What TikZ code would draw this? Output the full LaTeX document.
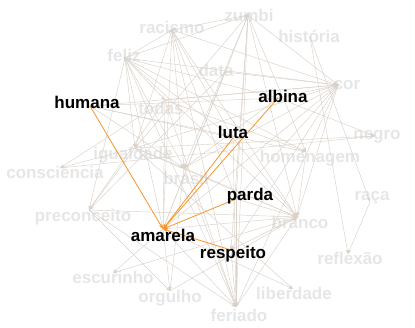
\documentclass[tikz,border=0pt]{standalone}
\usepackage{fontspec}
\setmainfont{Liberation Sans}
\usetikzlibrary{arrows.meta}
\definecolor{edgegrey}{RGB}{218,209,201}
\definecolor{labelgrey}{RGB}{230,230,230}
\definecolor{dotgrey}{RGB}{226,222,218}
\definecolor{hiorange}{RGB}{245,150,45}
\tikzset{
  faint/.style={font=\fontsize{17}{20}\selectfont\bfseries, text=labelgrey, inner sep=0pt},
  strong/.style={font=\fontsize{17}{20}\selectfont\bfseries, text=black, inner sep=0pt},
  link/.style={draw=edgegrey, line width=0.45pt, -{Stealth[length=4.5pt,width=3.2pt]}},
  hilink/.style={draw=hiorange, line width=0.8pt, -{Stealth[length=5pt,width=3.5pt]}},
  dot/.style={circle, fill=dotgrey, inner sep=0pt, minimum size=3.5pt}
}
\begin{document}
\begin{tikzpicture}[x=1pt,y=-1pt]
\useasboundingbox (0,0) rectangle (415,328);
% graph vertices
\coordinate (rac) at (172,30);
\coordinate (zum) at (248,15);
\coordinate (his) at (310,37);
\coordinate (fel) at (125,58);
\coordinate (dat) at (225,72);
\coordinate (cor) at (338,85);
\coordinate (hum) at (90,106);
\coordinate (alb) at (278,98);
\coordinate (tod) at (165,100);
\coordinate (lut) at (233,138);
\coordinate (neg) at (375,136);
\coordinate (igu) at (135,148);
\coordinate (con) at (60,168);
\coordinate (bra) at (184,168);
\coordinate (hom) at (306,152);
\coordinate (par) at (236,199);
\coordinate (pre) at (89,210);
\coordinate (rca) at (370,202);
\coordinate (bco) at (297,217);
\coordinate (ama) at (163,229);
\coordinate (res) at (231,250);
\coordinate (esc) at (113,273);
\coordinate (ref) at (348,254);
\coordinate (org) at (170,291);
\coordinate (lib) at (293,289);
\coordinate (fer) at (236,307);
% faint word labels
\node[faint] (Lrac) at (172,27) {racismo};
\node[faint] (Lzum) at (249,15) {zumbi};
\node[faint] (Lhis) at (309,36) {história};
\node[faint] (Lfel) at (124,55) {feliz};
\node[faint] (Ldat) at (216,70) {data};
\node[faint] (Lcor) at (347,85) {cor};
\node[faint] (Ltod) at (161,108) {todas};
\node[faint] (Lneg) at (377,137) {negro};
\node[faint] (Ligu) at (133,155) {igualdade};
\node[faint] (Lcon) at (55,172) {consciencia};
\node[faint] (Lbra) at (186,178) {brasil};
\node[faint] (Lhom) at (310,158) {homenagem};
\node[faint] (Lpre) at (83,217) {preconceito};
\node[faint] (Lrca) at (372,198) {raça};
\node[faint] (Lbco) at (300,222) {branco};
\node[faint] (Lesc) at (113,277) {escurinho};
\node[faint] (Lref) at (350,258) {reflexão};
\node[faint] (Lorg) at (170,298) {orgulho};
\node[faint] (Llib) at (294,293) {liberdade};
\node[faint] (Lfer) at (239,315) {feriado};
% vertex dots
\foreach \v in {cor,bra,bco,fel,rac,zum}
  \node[dot] at (\v) {};
% grey links
\foreach \a/\b in {
  fel/rac, zum/rac, fel/zum,
  rac/cor, zum/cor, fel/cor, hum/cor, tod/cor, igu/cor, bra/cor, alb/cor, dat/cor,
  cor/bco, cor/par, cor/ama, cor/fer, cor/res,
  his/ref, rca/ref, his/rca,
  igu/neg, alb/neg, con/neg, tod/con, igu/con,
  tod/hom, hum/hom, fel/hom,
  fel/bra, rac/bra, zum/bra, igu/bra, hum/bra, alb/bra,
  fel/igu, rac/igu, zum/igu,
  fel/pre, igu/pre, tod/pre, dat/pre,
  zum/bco, rac/bco, fel/bco, igu/bco, bra/bco, par/bco, lut/bco, ama/bco, pre/bco, res/bco, fer/bco, org/bco, hom/bco,
  fel/ama, zum/ama, rac/ama, tod/ama, dat/ama,
  ama/org, ama/fer, ama/lib, bra/org, pre/org,
  rac/fer, zum/fer, bra/fer, lut/fer, par/fer, res/fer, tod/fer, pre/fer, fel/fer,
  igu/lib, bco/esc, ama/esc,
  hum/alb, fel/alb, fel/tod, fel/lut, hum/lut, zum/par, rac/par, zum/res, zum/hom, rac/lut}
  \draw[link] (\a) -- (\b);
% highlighted links into amarela
\foreach \a in {hum,alb,lut,par,res}
  \draw[hilink] (\a) -- (ama);
% highlighted word labels
\node[strong] (Lhum) at (87,102) {humana};
\node[strong] (Lalb) at (283,96) {albina};
\node[strong] (Llut) at (233,132) {luta};
\node[strong] (Lpar) at (250,196) {parda};
\node[strong] (Lama) at (163,235) {amarela};
\node[strong] (Lres) at (233,254) {respeito};
\end{tikzpicture}
\end{document}
